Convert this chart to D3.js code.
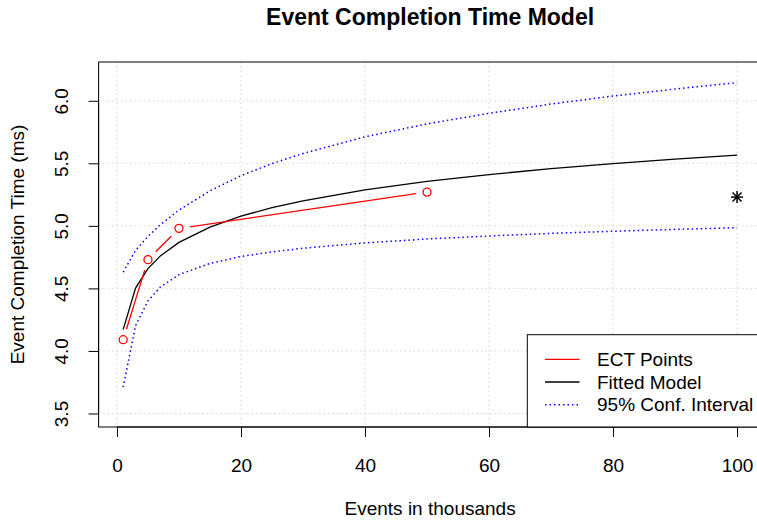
<!DOCTYPE html>
<html>
<head>
<meta charset="utf-8">
<script src="https://cdn.jsdelivr.net/npm/d3@7"></script>
<style>
  html, body { margin: 0; padding: 0; background: #fff; }
  svg { display: block; font-family: "Liberation Sans", Arial, sans-serif; }
</style>
</head>
<body>
<svg id="chart" width="757" height="521"></svg>
<script>
// ---- data ----
const ectX = [1, 5, 10, 50];
const ectY = [4.09, 4.73, 4.98, 5.27];
const starX = [100];
const starY = [5.23];
const fitX = [1, 3, 5, 7, 10, 15, 20, 25, 30, 40, 50, 60, 70, 80, 90, 100];
const fitY = [4.17, 4.503, 4.658, 4.76, 4.868, 4.99, 5.078, 5.145, 5.2, 5.288, 5.355, 5.41, 5.457, 5.498, 5.533, 5.565];
const upperY = [4.63, 4.804, 4.916, 5.009, 5.126, 5.28, 5.401, 5.498, 5.579, 5.712, 5.815, 5.9, 5.974, 6.038, 6.094, 6.145];
const lowerY = [3.71, 4.202, 4.40, 4.511, 4.61, 4.70, 4.755, 4.792, 4.821, 4.864, 4.895, 4.919, 4.94, 4.957, 4.972, 4.985];
const xTicks = [0, 20, 40, 60, 80, 100];
const yTicks = [3.5, 4.0, 4.5, 5.0, 5.5, 6.0];
const legendLabels = ["ECT Points", "Fitted Model", "95% Conf. Interval"];

const svg = d3.select("#chart");
const L = 98.6, R = 761.6, T = 62, B = 427;
const FS = 19;

const x = d3.scaleLinear().domain([-2.96, 103.96]).range([L, R]);
const y = d3.scaleLinear().domain([3.392, 6.31]).range([B, T]);

// grid
const grid = svg.append("g").attr("stroke", "#d3d3d3").attr("stroke-width", 1).attr("stroke-dasharray", "1.5,3");
grid.selectAll("line.gx").data(xTicks).join("line")
  .attr("x1", d => x(d)).attr("x2", d => x(d)).attr("y1", T).attr("y2", B);
grid.selectAll("line.gy").data(yTicks).join("line")
  .attr("x1", L).attr("x2", R).attr("y1", d => y(d)).attr("y2", d => y(d));

// axes
const xAxis = svg.append("g").attr("transform", `translate(0,${B})`)
  .call(d3.axisBottom(x).tickValues(xTicks).tickFormat(d3.format("d")).tickSize(10));
xAxis.select(".domain").attr("d", `M${x(0)},0H${x(100)}`).attr("stroke", "#000");
xAxis.selectAll("text").attr("font-size", FS).attr("fill", "#000").attr("dy", null).attr("y", 45);
xAxis.selectAll(".tick line").attr("stroke", "#000");

const yAxis = svg.append("g").attr("transform", `translate(${L},0)`)
  .call(d3.axisLeft(y).tickValues(yTicks).tickFormat(d3.format(".1f")).tickSize(10));
yAxis.select(".domain").attr("d", `M0,${y(3.5)}V${y(6.0)}`).attr("stroke", "#000");
yAxis.selectAll(".tick line").attr("stroke", "#000");
yAxis.selectAll(".tick text")
  .attr("font-size", FS).attr("fill", "#000")
  .attr("x", null).attr("dy", null)
  .attr("text-anchor", "middle")
  .attr("transform", "translate(-30.6,0) rotate(-90)");

// box
svg.append("rect").attr("x", L).attr("y", T).attr("width", R - L).attr("height", B - T)
  .attr("fill", "none").attr("stroke", "#000").attr("stroke-width", 1);

// confidence interval
const line = (ys) => d3.line().x((d, i) => x(fitX[i])).y(d => y(d))(ys);
svg.append("path").attr("d", line(upperY)).attr("fill", "none").attr("stroke", "#0000ff")
  .attr("stroke-width", 1.5).attr("stroke-dasharray", "1.5,3");
svg.append("path").attr("d", line(lowerY)).attr("fill", "none").attr("stroke", "#0000ff")
  .attr("stroke-width", 1.5).attr("stroke-dasharray", "1.5,3");

// fitted model
svg.append("path").attr("d", line(fitY)).attr("fill", "none").attr("stroke", "#000").attr("stroke-width", 1.3);

// ECT points, type "b": segments with gaps around points
const gap = 11;
const segs = [];
for (let i = 0; i < ectX.length - 1; i++) {
  const x0 = x(ectX[i]), y0 = y(ectY[i]), x1 = x(ectX[i + 1]), y1 = y(ectY[i + 1]);
  const len = Math.hypot(x1 - x0, y1 - y0);
  if (len > 2 * gap) {
    const ux = (x1 - x0) / len, uy = (y1 - y0) / len;
    segs.push([x0 + ux * gap, y0 + uy * gap, x1 - ux * gap, y1 - uy * gap]);
  }
}
svg.append("g").selectAll("line").data(segs).join("line")
  .attr("x1", d => d[0]).attr("y1", d => d[1]).attr("x2", d => d[2]).attr("y2", d => d[3])
  .attr("stroke", "#ff0000").attr("stroke-width", 1.3);
svg.append("g").selectAll("circle").data(ectX).join("circle")
  .attr("cx", d => x(d)).attr("cy", (d, i) => y(ectY[i])).attr("r", 4)
  .attr("fill", "none").attr("stroke", "#ff0000").attr("stroke-width", 1.3);

// asterisk
starX.forEach((sx, i) => {
  const cx = x(sx), cy = y(starY[i]);
  const g = svg.append("g").attr("stroke", "#000").attr("stroke-width", 1.5);
  const a = 6, b = 4.5;
  g.append("line").attr("x1", cx - a).attr("x2", cx + a).attr("y1", cy).attr("y2", cy);
  g.append("line").attr("x1", cx).attr("x2", cx).attr("y1", cy - a).attr("y2", cy + a);
  g.append("line").attr("x1", cx - b).attr("x2", cx + b).attr("y1", cy - b).attr("y2", cy + b);
  g.append("line").attr("x1", cx - b).attr("x2", cx + b).attr("y1", cy + b).attr("y2", cy - b);
});

// legend
const lg = svg.append("g");
lg.append("rect").attr("x", 527.3).attr("y", 334.7).attr("width", R - 527.3).attr("height", B - 334.7)
  .attr("fill", "#fff").attr("stroke", "#000").attr("stroke-width", 1);
const legStyles = [
  { stroke: "#ff0000", dash: null, w: 1.3 },
  { stroke: "#000", dash: null, w: 1.3 },
  { stroke: "#0000ff", dash: "1.5,3", w: 1.5 }
];
legendLabels.forEach((lab, i) => {
  const ry = 359.3 + i * 22.7;
  lg.append("line").attr("x1", 545).attr("x2", 579.5).attr("y1", ry).attr("y2", ry)
    .attr("stroke", legStyles[i].stroke).attr("stroke-width", legStyles[i].w)
    .attr("stroke-dasharray", legStyles[i].dash);
  lg.append("text").attr("x", 597).attr("y", ry).attr("dy", "0.35em")
    .attr("font-size", FS).attr("fill", "#000").text(lab);
});

// titles
svg.append("text").attr("x", (L + R) / 2).attr("y", 25).attr("text-anchor", "middle")
  .attr("font-size", 23).attr("font-weight", "bold").attr("fill", "#000")
  .text("Event Completion Time Model");
svg.append("text").attr("x", (L + R) / 2).attr("y", 515).attr("text-anchor", "middle")
  .attr("font-size", FS).attr("fill", "#000").text("Events in thousands");
svg.append("text").attr("transform", `translate(24,${(T + B) / 2}) rotate(-90)`)
  .attr("text-anchor", "middle").attr("font-size", FS).attr("fill", "#000")
  .text("Event Completion Time (ms)");
</script>
</body>
</html>
